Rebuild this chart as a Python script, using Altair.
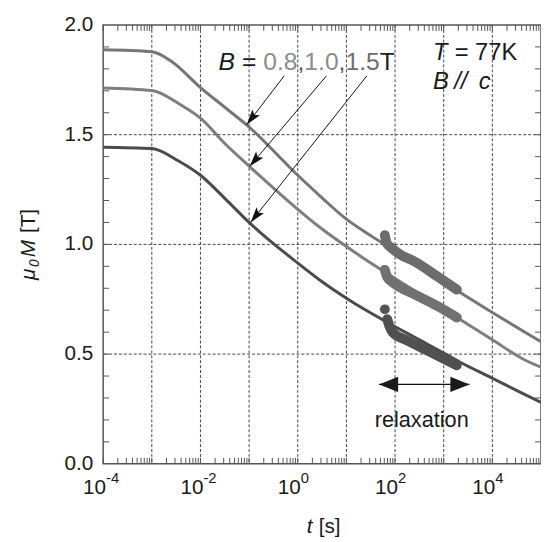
import math
import altair as alt
import pandas as pd

FONT = "Liberation Sans"

# ---- data (log10 of t in seconds, mu0 M in tesla) ----
A_logt = [-4, -3, -2.6, -2, -1.5, -1, 0, 0.5, 1, 1.5, 2, 2.5, 3, 3.33, 4, 4.62, 5]
A_m = [1.887, 1.878, 1.835, 1.715, 1.625, 1.535, 1.315, 1.212, 1.115, 1.04, 0.97, 0.90, 0.83, 0.782, 0.69, 0.606, 0.556]

B_logt = [-4, -3, -2.4, -2, -1.5, -1, 0, 0.5, 1, 1.5, 2, 2.5, 3, 3.33, 4, 4.62, 5]
B_m = [1.713, 1.701, 1.635, 1.575, 1.46, 1.357, 1.16, 1.07, 0.99, 0.915, 0.845, 0.775, 0.705, 0.659, 0.565, 0.479, 0.44]

C_logt = [-4, -3, -2.45, -2, -1.5, -1, 0, 0.5, 1, 1.37, 2, 2.5, 3, 3.33, 4, 4.62, 5]
C_m = [1.443, 1.437, 1.38, 1.315, 1.21, 1.10, 0.915, 0.83, 0.755, 0.704, 0.625, 0.565, 0.505, 0.464, 0.39, 0.321, 0.28]

# relaxation measurements
RA_logt = [1.79, 1.83, 1.92, 2.1, 2.4, 2.87, 3.27]
RA_m = [1.042, 1.005, 0.985, 0.955, 0.922, 0.854, 0.794]
RB_logt = [1.79, 1.83, 1.92, 2.1, 2.4, 2.87, 3.27]
RB_m = [0.884, 0.855, 0.832, 0.805, 0.772, 0.719, 0.667]
RC_logt = [1.84, 1.88, 1.95, 2.26, 2.73, 3.27]
RC_m = [0.659, 0.63, 0.60, 0.561, 0.509, 0.449]
RC_dot_logt = [1.79]
RC_dot_m = [0.704]

# annotation arrows (start at label, end on curve)
arrow_start_logt = [-0.28, 0.59, 1.42]
arrow_start_m = [1.768, 1.768, 1.768]
arrow_end_logt = [-1.05, -0.99, -0.97]
arrow_end_m = [1.545, 1.355, 1.100]

relax_logt = [1.67, 3.53]
relax_m = [0.362, 0.362]

# axes
x_label_exps = [-4, -2, 0, 2, 4]
grid_x_exps = [-3, -2, -1, 0, 1, 2, 3, 4]
grid_y = [0.5, 1.0, 1.5]
y_labels = [0.0, 0.5, 1.0, 1.5, 2.0]
minor_x = [k * 10.0 ** n for n in range(-4, 5) for k in range(1, 10)]
minor_y = [round(0.1 * i, 1) for i in range(1, 20)]

W, H = 444, 445
PX_DEC = W / 9.0
PX_UNIT = H / 2.0

xscale = alt.Scale(type="log", domain=[1e-4, 1e5], nice=False)
yscale = alt.Scale(domain=[0, 2], nice=False, zero=False)


def curve_df(logt, m):
    return pd.DataFrame({"t": [10.0 ** v for v in logt], "m": m})


def X(field="t"):
    return alt.X(f"{field}:Q", scale=xscale, axis=None)


def Y(field="m"):
    return alt.Y(f"{field}:Q", scale=yscale, axis=None)


one = pd.DataFrame({"a": [0]})


def txt(s, x, y, size=25, color="#1a1a1a", style="normal", align="left", angle=0):
    return alt.Chart(one).mark_text(
        text=s, font=FONT, fontSize=size, fontStyle=style, color=color,
        align=align, baseline="alphabetic", angle=angle
    ).encode(x=alt.value(x), y=alt.value(y))


layers = []

# grid
layers.append(alt.Chart(pd.DataFrame({"t": [10.0 ** e for e in grid_x_exps]})).mark_rule(
    color="#444", strokeWidth=1, strokeDash=[3, 2]).encode(x=X()))
layers.append(alt.Chart(pd.DataFrame({"m": grid_y})).mark_rule(
    color="#444", strokeWidth=1, strokeDash=[3, 2]).encode(y=Y()))

# inward ticks
mx = pd.DataFrame({"t": minor_x})
my = pd.DataFrame({"m": minor_y})
TICK = "#555"
layers.append(alt.Chart(mx).mark_rule(color=TICK, strokeWidth=1).encode(
    x=X(), y=alt.value(H), y2=alt.value(H - 6)))
layers.append(alt.Chart(mx).mark_rule(color=TICK, strokeWidth=1).encode(
    x=X(), y=alt.value(0), y2=alt.value(6)))
layers.append(alt.Chart(my).mark_rule(color=TICK, strokeWidth=1).encode(
    y=Y(), x=alt.value(0), x2=alt.value(6)))
layers.append(alt.Chart(my).mark_rule(color=TICK, strokeWidth=1).encode(
    y=Y(), x=alt.value(W), x2=alt.value(W - 6)))

# y tick labels
layers.append(alt.Chart(pd.DataFrame({"m": y_labels})).mark_text(
    font=FONT, fontSize=21, color="#1a1a1a", align="right", baseline="middle"
).encode(y=Y(), x=alt.value(-10), text=alt.Text("m:Q", format=".1f")))

# main curves
for logt, m, col in [(A_logt, A_m, "#767676"), (B_logt, B_m, "#7e7e7e"), (C_logt, C_m, "#4b4b4b")]:
    layers.append(alt.Chart(curve_df(logt, m)).mark_line(
        color=col, strokeWidth=3, strokeJoin="round", interpolate="monotone").encode(x=X(), y=Y()))

# relaxation blobs
for logt, m, col in [(RA_logt, RA_m, "#6c6c6c"), (RB_logt, RB_m, "#717171"), (RC_logt, RC_m, "#505050")]:
    layers.append(alt.Chart(curve_df(logt, m)).mark_line(
        color=col, strokeWidth=10, strokeCap="round", strokeJoin="round",
        interpolate="monotone").encode(x=X(), y=Y()))
layers.append(alt.Chart(curve_df(RC_dot_logt, RC_dot_m)).mark_circle(
    color="#555", size=100, opacity=1).encode(x=X(), y=Y()))

# annotation arrows
adf = pd.DataFrame({
    "t0": [10.0 ** v for v in arrow_start_logt], "m0": arrow_start_m,
    "t1": [10.0 ** v for v in arrow_end_logt], "m1": arrow_end_m,
})
adf["ang"] = [
    math.degrees(math.atan2((l1 - l0) * PX_DEC, (m1 - m0) * PX_UNIT)) % 360
    for l0, m0, l1, m1 in zip(arrow_start_logt, arrow_start_m, arrow_end_logt, arrow_end_m)
]
layers.append(alt.Chart(adf).mark_rule(color="#111", strokeWidth=1).encode(
    x=X("t0"), x2="t1:Q", y=Y("m0"), y2="m1:Q"))
layers.append(alt.Chart(adf).mark_point(
    shape="M0,0L-0.3,1L0,0.8L0.3,1Z", filled=True, color="#111", size=1000, opacity=1
).encode(x=X("t1"), y=Y("m1"), angle=alt.Angle("ang:Q", scale=None)))

# relaxation double arrow
rdf = pd.DataFrame({"t": [10.0 ** v for v in relax_logt], "m": relax_m, "ang": [270, 90]})
layers.append(alt.Chart(rdf).mark_line(color="#111", strokeWidth=1.2).encode(x=X(), y=Y()))
layers.append(alt.Chart(rdf).mark_point(
    shape="M0,0L-0.4,1L0.4,1Z", filled=True, color="#1a1a1a", size=1500, opacity=1
).encode(x=X(), y=Y(), angle=alt.Angle("ang:Q", scale=None)))

# x tick labels with superscripts
xl = pd.DataFrame({"t": [10.0 ** e for e in x_label_exps],
                   "base": ["10"] * len(x_label_exps),
                   "exp": [str(e) for e in x_label_exps]})
layers.append(alt.Chart(xl).mark_text(font=FONT, fontSize=21, color="#1a1a1a", align="right",
                                      baseline="alphabetic", dx=3).encode(
    x=X(), y=alt.value(H + 31), text="base:N"))
layers.append(alt.Chart(xl).mark_text(font=FONT, fontSize=15, color="#1a1a1a", align="left",
                                      baseline="alphabetic", dx=3).encode(
    x=X(), y=alt.value(H + 19.5), text="exp:N"))

# text annotations
BY = 45.2
layers += [
    txt("B", 117, BY, style="italic"),
    txt("=", 140.7, BY),
    txt("0.8", 162.3, BY, color="#8c8c8c"),
    txt(",", 197, BY, color="#555"),
    txt("1.0", 204, BY, color="#8c8c8c"),
    txt(",", 238.7, BY, color="#555"),
    txt("1.5", 245.7, BY, color="#6e6e6e"),
    txt("T", 280.4, BY, color="#222"),
    txt("T", 334.5, 35.2, size=24, style="italic"),
    txt("= 77K", 356.5, 35.2, size=24),
    txt("B", 334.5, 65.2, size=24, style="italic"),
    txt("//", 356, 65.2, size=24, style="italic"),
    txt("c", 381, 65.2, size=24, style="italic"),
    txt("relaxation", 323, 407.8, size=22, align="center"),
    # x title
    txt("t", 206.5, 515.5, size=21, style="italic"),
    txt("[s]", 218.5, 515.5, size=21),
    # y title (rotated)
    txt("\u03bc", -69.5, 258.5, size=21, style="italic", angle=270),
    txt("0", -65.5, 245.5, size=14, style="italic", angle=270),
    txt("M", -69.5, 235.5, size=21, style="italic", angle=270),
    txt("[T]", -69.5, 211, size=21, angle=270),
]

chart = alt.layer(*layers).properties(
    width=W, height=H,
    autosize=alt.AutoSizeParams(type="none"),
    padding={"left": 96.5, "top": 13.5, "right": 0, "bottom": 70},
    background="white",
).configure_view(stroke="#555", strokeWidth=1.5)

chart.save("out.html", embed_options={"renderer": "svg", "actions": False})
